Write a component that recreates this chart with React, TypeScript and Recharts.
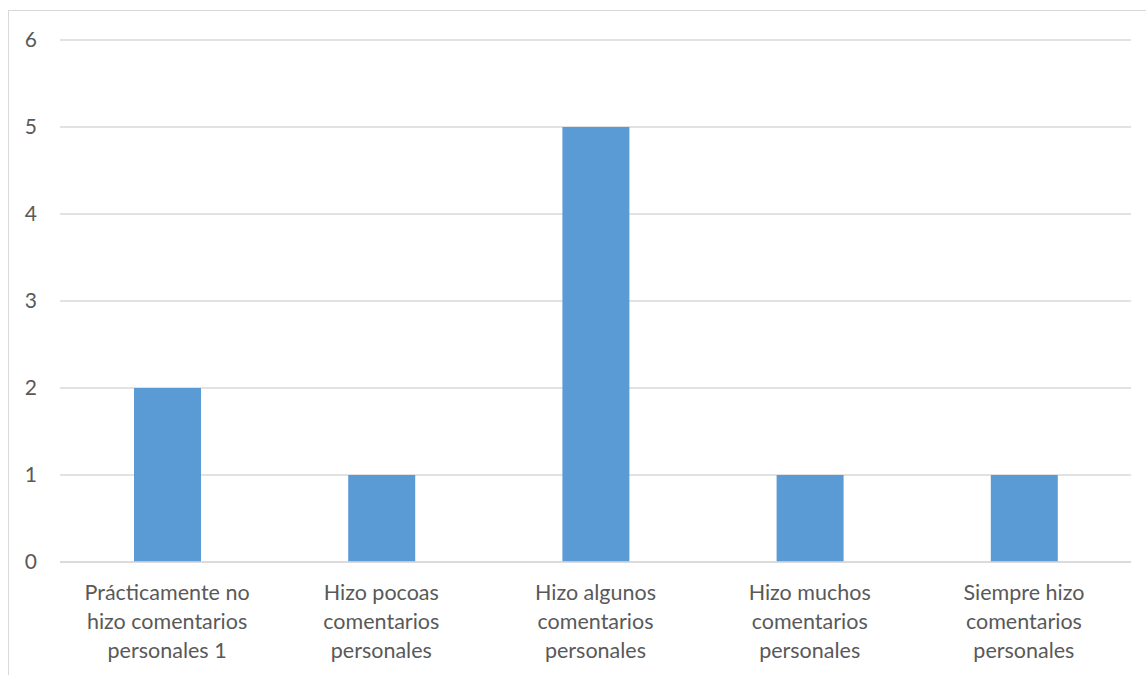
import { BarChart, Bar, XAxis, YAxis, CartesianGrid } from 'recharts';

const categories = [
    'Prácticamente no\nhizo comentarios\npersonales 1',
    'Hizo pocoas\ncomentarios\npersonales',
    'Hizo algunos\ncomentarios\npersonales',
    'Hizo muchos\ncomentarios\npersonales',
    'Siempre hizo\ncomentarios\npersonales',
];
const counts = [2, 1, 5, 1, 1];
const yTicks = [0, 1, 2, 3, 4, 5, 6];

const data = categories.map((name, i) => ({ name, value: counts[i] }));

const FONT = 'Lato, "Open Sans", sans-serif';
const TEXT = '#595959';
const GRID = '#d9d9d9';

function CategoryTick({ x, y, payload }: { x?: number; y?: number; payload?: { value: string } }) {
    const lines = String(payload?.value ?? '').split('\n');
    return (
        <text x={x} y={y} textAnchor="middle" fill={TEXT} fontSize={21.5} fontFamily={FONT}>
            {lines.map((line, i) => (
                <tspan key={i} x={x} dy={i === 0 ? 38 : 29}>
                    {line}
                </tspan>
            ))}
        </text>
    );
}

export default function App() {
    return (
        <div
            style={{
                position: 'absolute',
                left: 8,
                top: 10,
                width: 1138,
                height: 665,
                borderTop: `1px solid ${GRID}`,
                borderLeft: `1px solid ${GRID}`,
                boxSizing: 'border-box',
                background: '#fff',
            }}
        >
            <BarChart
                width={1137}
                height={664}
                data={data}
                margin={{ top: 29, right: 15, left: 0, bottom: 13 }}
            >
                <CartesianGrid vertical={false} stroke={GRID} strokeWidth={1.5} />
                <XAxis
                    dataKey="name"
                    interval={0}
                    height={100}
                    tickLine={false}
                    tickSize={0}
                    tickMargin={0}
                    axisLine={{ stroke: GRID, strokeWidth: 1.5 }}
                    tick={<CategoryTick />}
                />
                <YAxis
                    domain={[0, 6]}
                    ticks={yTicks}
                    width={51}
                    axisLine={false}
                    tickLine={false}
                    tickSize={0}
                    tickMargin={23}
                    tick={{ fill: TEXT, fontSize: 21, fontFamily: FONT }}
                />
                <Bar dataKey="value" fill="#5b9bd5" barSize={67} isAnimationActive={false} />
            </BarChart>
        </div>
    );
}
